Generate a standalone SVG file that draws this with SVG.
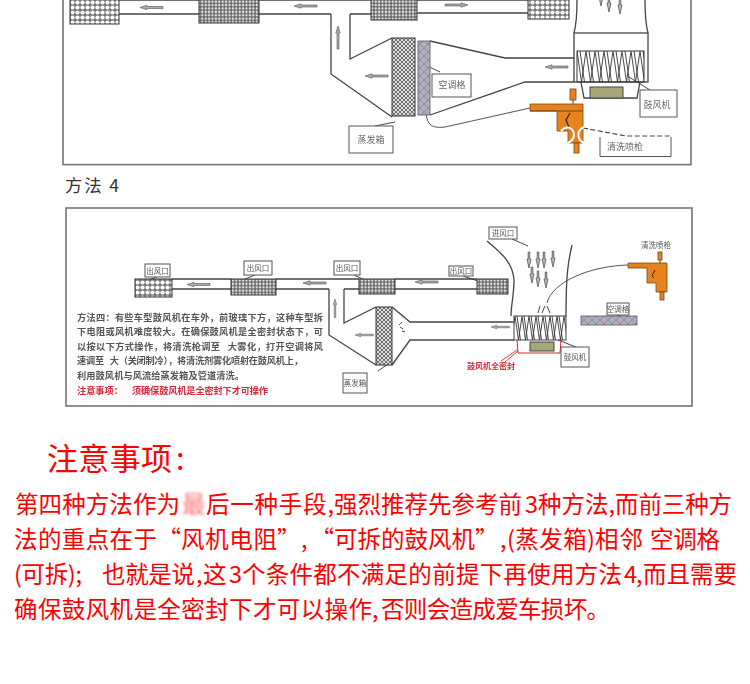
<svg xmlns="http://www.w3.org/2000/svg" width="750" height="684" viewBox="0 0 750 684">
<style>
text{font-family:"Noto Sans CJK SC","Liberation Sans",sans-serif}
.panel{fill:#fff;stroke:#77746f;stroke-width:1.6}
.duct{fill:none;stroke:#444;stroke-width:1.3}
.thin{fill:none;stroke:#333;stroke-width:.9}
.hose{fill:none;stroke:#555;stroke-width:1}
.lab{fill:#fff;stroke:#555;stroke-width:1}
.t1{font-size:9px;fill:#666}
.t2{font-size:7.5px;fill:#555}
.para{font-size:9.2px;fill:#555;font-weight:700}
.warn{font-size:9.2px;fill:#d92a3c;font-weight:700}
.or{fill:#e8821e;stroke:#6b4a20;stroke-width:.8}
.red{font-size:23.5px;fill:#f00}
.blockA{fill:url(#cA);stroke:#333;stroke-width:1}
.blockB{fill:url(#cB);stroke:#333;stroke-width:1}
.ev{fill:url(#hatch);stroke:#333;stroke-width:1}
.fil{fill:url(#rain);stroke:#555;stroke-width:.8}
.motor{fill:#a7a77c;stroke:#444;stroke-width:1}
</style>
<defs>
<filter id="soft" x="-2%" y="-2%" width="104%" height="104%"><feGaussianBlur stdDeviation="0.35"/></filter>
<filter id="blurred" x="-30%" y="-30%" width="160%" height="160%"><feGaussianBlur stdDeviation="1.6"/></filter>
<pattern id="cA" width="5" height="5" patternUnits="userSpaceOnUse"><rect width="5" height="5" fill="#777"/><circle cx="2.500" cy="2.500" r="2.100" fill="#fff"/></pattern>
<pattern id="cB" width="3.400" height="3.400" patternUnits="userSpaceOnUse"><rect width="3.400" height="3.400" fill="#666"/><circle cx="1.700" cy="1.700" r="1.200" fill="#e4e4e4"/></pattern>
<pattern id="hatch" width="4" height="4" patternUnits="userSpaceOnUse"><rect width="4" height="4" fill="#ddd"/><path d="M0 0L4 4M4 0L0 4" stroke="#555" stroke-width=".8"/></pattern>
<pattern id="rain" width="8" height="8" patternUnits="userSpaceOnUse"><rect width="8" height="8" fill="#b9b0bd"/><path d="M0 0L8 8" stroke="#6aa7c9" stroke-width="1.2"/><path d="M8 0L0 8" stroke="#b77a9a" stroke-width="1.2"/><path d="M0 4L4 0" stroke="#8ab58a" stroke-width=".8"/></pattern>
<pattern id="zzA" width="9" height="31" patternUnits="userSpaceOnUse" patternTransform="translate(577 51)"><path d="M0 0L4.500 31L9 0M3 0L7.500 31" fill="none" stroke="#333" stroke-width=".9"/></pattern>
<pattern id="zzB" width="7" height="24" patternUnits="userSpaceOnUse" patternTransform="translate(515 316)"><path d="M0 0L3.500 24L7 0M2 0L5.500 24" fill="none" stroke="#333" stroke-width=".9"/></pattern>
<g id="arr"><path d="M0 0L7 -2.200L7 -1L23 -1L23 1L7 1L7 2.200Z" fill="#aaa" stroke="#555" stroke-width=".6"/></g>
<g id="drop"><path d="M0 0L-2 -9L-.8 -9L-.8 -16L.8 -16L.8 -9L2 -9Z" fill="#bbb" stroke="#444" stroke-width=".7"/></g>
</defs>
<rect width="750" height="684" fill="#fff"/>

<g filter="url(#soft)">
<rect id="panel-top" class="panel" x="63" y="-10" width="628" height="174.600"/>
<g id="connectors-top">
<path class="duct" d="M119 0H199M119 14H199M259 0H371M259 14H331M350 14H371M417 0H528M417 13H528"/>
<path class="duct" d="M331 14V74L392 117M350 14V59L392 38M430 41L505 58H574M430 115L525 82H574"/>
<path class="duct" d="M574 33C577 22 577 10 577 0M648 33C645 22 645 10 645 0"/>
<path class="thin" d="M70 8L88 1M205 8L215 1M425 65L440 72M395 122L375 126M629 77L650 90M530 0L536 3"/>
<path class="hose" d="M530 108L445 127C428 129 424 122 427 98"/>
<path d="M583 128L626 136H671" stroke="#444" stroke-width="1.100" stroke-dasharray="5 2.500" fill="none"/>
<use href="#arr" x="140" y="7.500"/><use href="#arr" x="294" y="6"/>
<use href="#arr" transform="translate(468 5) rotate(180)"/>
<use href="#arr" transform="translate(338 26) rotate(90)"/>
<use href="#arr" x="365" y="76"/><use href="#arr" x="545" y="67"/>
<use href="#drop" transform="translate(601 6)"/><use href="#drop" transform="translate(609 12)"/><use href="#drop" transform="translate(620 14)"/>
</g>
<g id="outlet-1"><rect class="blockA" x="70" y="-3" width="49" height="27"/></g>
<g id="outlet-2"><rect class="blockB" x="199" y="-3" width="60" height="26"/></g>
<g id="outlet-3"><rect class="blockB" x="371" y="-3" width="46" height="23"/></g>
<g id="outlet-4"><rect class="blockA" x="528" y="-3" width="41" height="22"/></g>
<g id="evaporator-top"><rect class="ev" x="392" y="38" width="23" height="78"/><rect class="lab" x="349" y="126" width="44" height="27"/><text class="t1" x="371" y="143" text-anchor="middle">蒸发箱</text></g>
<g id="filter-top"><rect class="fil" x="418" y="41" width="12" height="74"/><rect class="lab" x="432" y="74" width="39" height="23"/><text class="t1" x="452" y="88" text-anchor="middle">空调格</text></g>
<g id="blower-top">
<rect class="duct" x="574" y="33" width="74" height="49" fill="#fff"/>
<rect x="577" y="51" width="67" height="31" fill="url(#zzA)" stroke="#333"/>
<path class="duct" d="M581 82L584 98H637L640 82"/>
<rect class="motor" x="590" y="87" width="33" height="11"/>
<rect class="lab" x="640" y="90" width="37" height="27"/><text class="t1" x="657" y="108" text-anchor="middle">鼓风机</text>
</g>
<g id="gun-top">
<path d="M573 100V104" stroke="#444"/>
<rect class="or" x="570" y="89" width="6" height="11"/>
<path class="or" d="M530 104H583V143H568V131H557V111H530Z"/>
<path d="M530 111H583" stroke="#6b4a20"/>
<rect class="or" x="574" y="143" width="5" height="10"/>
<path d="M570 113L566 120L569 127" fill="none" stroke="#222" stroke-width="1.200"/>
<path d="M561 131C566 125 573 127 574 134C574 138 572 141 568 143M584 127C577 130 576 139 584 143" fill="none" stroke="#fff" stroke-width="2"/>
<path d="M600 137V156.500H671V137" fill="#fff" stroke="#555"/>
<text class="t1" x="625" y="150" text-anchor="middle">清洗喷枪</text>
</g>
</g>

<text id="method-4" x="65" y="192" font-size="17.500" fill="#333" textLength="54">方法 4</text>

<g filter="url(#soft)">
<rect id="panel-bottom" class="panel" x="66" y="208" width="626" height="198"/>
<g id="connectors-bottom">
<path class="duct" d="M172 279H231M172 289H231M276 279H359M276 289H329M344 289H359M395 279H477M395 289H477"/>
<path class="duct" d="M329 289V335L376 365M344 289V323L376 307M392 307L410 322H514M392 365L410 340H514"/>
<path class="duct" d="M487 241C500 252 513 262 514 280C514 295 511 305 511 316M572 245C568 262 566 275 566 316"/>
<path class="thin" d="M157 277L137 284M255 275L235 283M354 275L365 280M463 276L478 281M512 239L528 246M388 364L378 371M576 347L558 340M620 315L602 321"/>
<path class="thin" d="M402 322L399 325M403 329L400 327M405 332L402 331"/>
<path class="hose" d="M628 265C590 266 552 282 547 303"/>
<path class="thin" d="M540 306L538 313M545 306L542 313M547 306L550 313"/>
<path d="M517 340L518 353H560L561 340" fill="none" stroke="#d92a3c" stroke-width="1"/>
<path d="M501 361L517 350M505 362L518 351" fill="none" stroke="#d92a3c" stroke-width=".9"/>
<use href="#arr" x="187" y="284.500"/><use href="#arr" x="303" y="283"/><use href="#arr" x="415" y="282"/>
<use href="#arr" transform="translate(335 299) rotate(90) scale(.8)"/>
<use href="#arr" transform="translate(355 335) scale(.8)"/><use href="#arr" transform="translate(491 327) scale(.8)"/>
<use href="#drop" x="529" y="268"/><use href="#drop" x="538" y="268"/><use href="#drop" x="544" y="268"/><use href="#drop" x="553" y="267"/><use href="#drop" x="532" y="283"/><use href="#drop" x="538" y="287"/><use href="#drop" x="546" y="288"/>
</g>
<g id="outlet-b1"><rect class="blockA" x="135" y="279" width="37" height="18"/><rect class="lab" x="145" y="264" width="25" height="13"/><text class="t2" x="157.500" y="273.500" text-anchor="middle">出风口</text></g>
<g id="outlet-b2"><rect class="blockB" x="231" y="279" width="45" height="16"/><rect class="lab" x="244" y="261" width="28" height="14"/><text class="t2" x="258" y="271" text-anchor="middle">出风口</text></g>
<g id="outlet-b3"><rect class="blockB" x="359" y="279" width="36" height="15"/><rect class="lab" x="334" y="261" width="26" height="14"/><text class="t2" x="347" y="271" text-anchor="middle">出风口</text></g>
<g id="outlet-b4"><rect class="blockB" x="477" y="279" width="31" height="15"/><rect class="lab" x="449" y="266" width="24" height="10"/><text class="t2" x="461" y="274" text-anchor="middle">出风口</text></g>
<g id="inlet"><rect class="lab" x="489" y="227" width="28" height="12"/><text class="t2" x="503" y="236" text-anchor="middle">进风口</text></g>
<g id="evaporator-b"><rect class="ev" x="376" y="307" width="16" height="58"/><rect class="lab" x="343" y="373" width="24" height="20"/><text class="t2" x="355" y="386" text-anchor="middle">蒸发箱</text></g>
<g id="blower-b">
<rect x="514" y="316" width="52" height="24" fill="url(#zzB)" stroke="#444" stroke-width="1"/>
<rect class="motor" x="530" y="342" width="24" height="9"/>
<rect class="lab" x="561" y="347" width="28" height="20"/><text class="t2" x="575" y="360" text-anchor="middle" font-size="8">鼓风机</text>
<text x="491" y="369" text-anchor="middle" font-size="8" fill="#d92a3c" font-weight="700">鼓风机全密封</text>
</g>
<g id="filter-b"><rect class="fil" x="581" y="316" width="56" height="9"/><rect class="lab" x="607" y="303" width="22" height="12"/><text class="t2" x="618" y="312" text-anchor="middle">空调格</text></g>
<g id="gun-b">
<text class="t2" x="656" y="248" text-anchor="middle">清洗喷枪</text>
<rect class="or" x="658" y="252" width="4" height="8"/>
<path d="M660 260V263" stroke="#444"/>
<path class="or" d="M628 263H667V292H656V283H647V268H628Z"/>
<rect class="or" x="660" y="292" width="4" height="8"/>
<path d="M655 270L652 276L654 278" fill="none" stroke="#222" stroke-width="1"/>
</g>
<g id="note">
<text class="para" x="77" y="320.500" textLength="246">方法四：有些车型鼓风机在车外，前玻璃下方，这种车型拆</text>
<text class="para" x="77" y="334.500" textLength="246">下电阻或风机难度较大。在确保鼓风机是全密封状态下，可</text>
<text class="para" x="77" y="349.500" textLength="246">以按以下方式操作，将清洗枪调至&#160;&#160;&#160;大雾化，打开空调将风</text>
<text class="para" x="77" y="363.500" textLength="226">速调至&#160;&#160;&#160;大（关闭制冷），将清洗剂雾化喷射在鼓风机上，</text>
<text class="para" x="77" y="378.500" textLength="167">利用鼓风机与风流给蒸发箱及管道清洗。</text>
<text class="warn" x="77" y="393.500">注意事项：</text>
<text class="warn" x="132" y="393.500" textLength="136">须确保鼓风机是全密封下才可操作</text>
</g>
</g>

<g id="notes-text">
<text x="47" y="470" font-size="31" fill="#f00" textLength="125">注意事项</text>
<text x="176" y="470" font-size="31" fill="#f00">:</text>
<text class="red" x="15" y="513" textLength="165">第四种方法作为</text>
<text class="red" x="182" y="513" fill-opacity=".55" filter="url(#blurred)">最</text>
<text class="red" x="206" y="513" textLength="128">后一种手段,</text>
<text class="red" x="334" y="513" textLength="188">强烈推荐先参考前</text>
<text class="red" x="525" y="513" textLength="12">3</text>
<text class="red" x="538" y="513" textLength="77">种方法,</text>
<text class="red" x="615" y="513" textLength="117">而前三种方</text>
<text class="red" x="14" y="548" textLength="143">法的重点在于</text>
<text class="red" x="157.500" y="548">“</text>
<text class="red" x="181" y="548" textLength="96">风机电阻</text>
<text class="red" x="277" y="548">”</text>
<text class="red" x="301" y="548">,</text>
<text class="red" x="310.500" y="548">“</text>
<text class="red" x="334" y="548" textLength="141">可拆的鼓风机</text>
<text class="red" x="475" y="548">”</text>
<text class="red" x="500" y="548">,</text>
<text class="red" x="507" y="548" textLength="88">(蒸发箱)</text>
<text class="red" x="595" y="548" textLength="48">相邻</text>
<text class="red" x="650" y="548" textLength="70">空调格</text>
<text class="red" x="14" y="583" textLength="68">(可拆);</text>
<text class="red" x="102" y="583" textLength="93">也就是说</text>
<text class="red" x="196" y="583">,</text>
<text class="red" x="203" y="583">这</text>
<text class="red" x="229" y="583" textLength="12">3</text>
<text class="red" x="242" y="583" textLength="380">个条件都不满足的前提下再使用方法</text>
<text class="red" x="624" y="583" textLength="12">4</text>
<text class="red" x="636" y="583">,</text>
<text class="red" x="643" y="583" textLength="94">而且需要</text>
<text class="red" x="14" y="618" textLength="358">确保鼓风机是全密封下才可以操作</text>
<text class="red" x="372" y="618">,</text>
<text class="red" x="381" y="618" textLength="229">否则会造成爱车损坏。</text>
</g>
</svg>
